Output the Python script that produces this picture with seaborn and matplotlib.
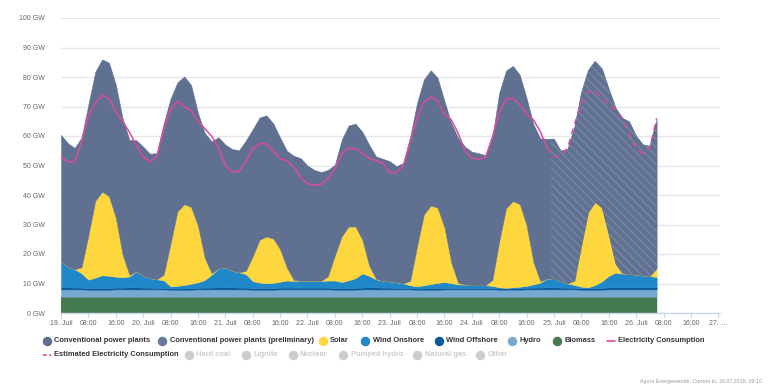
import numpy as np
import pandas as pd
import matplotlib
matplotlib.use("Agg")
import matplotlib.pyplot as plt
import seaborn as sns
from matplotlib.patches import Rectangle
from matplotlib.lines import Line2D

# ---------------- data (GW, every 2 hours starting 19 July 00:00) ----------------
hours = list(range(0, 176, 2))

biomass = [5.5, 5.5, 5.5, 5.5, 5.5, 5.5, 5.5, 5.5, 5.5, 5.5, 5.5, 5.5,
           5.5, 5.5, 5.5, 5.5, 5.5, 5.5, 5.5, 5.5, 5.5, 5.5, 5.5, 5.5,
           5.5, 5.5, 5.5, 5.5, 5.5, 5.5, 5.5, 5.5, 5.5, 5.5, 5.5, 5.5,
           5.5, 5.5, 5.5, 5.5, 5.5, 5.5, 5.5, 5.5, 5.5, 5.5, 5.5, 5.5,
           5.5, 5.5, 5.5, 5.5, 5.5, 5.5, 5.5, 5.5, 5.5, 5.5, 5.5, 5.5,
           5.5, 5.5, 5.5, 5.5, 5.5, 5.5, 5.5, 5.5, 5.5, 5.5, 5.5, 5.5,
           5.5, 5.5, 5.5, 5.5, 5.5, 5.5, 5.5, 5.5, 5.5, 5.5, 5.5, 5.5,
           5.5, 5.5, 5.5, 5.5]
hydro = [2.5, 2.5, 2.5, 2.5, 2.4, 2.4, 2.4, 2.4, 2.5, 2.5, 2.5, 2.5,
         2.5, 2.5, 2.5, 2.5, 2.4, 2.4, 2.4, 2.4, 2.5, 2.5, 2.5, 2.5,
         2.5, 2.5, 2.5, 2.5, 2.4, 2.4, 2.4, 2.4, 2.5, 2.5, 2.5, 2.5,
         2.5, 2.5, 2.5, 2.5, 2.4, 2.4, 2.4, 2.4, 2.5, 2.5, 2.5, 2.5,
         2.5, 2.5, 2.5, 2.5, 2.4, 2.4, 2.4, 2.4, 2.5, 2.5, 2.5, 2.5,
         2.5, 2.5, 2.5, 2.5, 2.4, 2.4, 2.4, 2.4, 2.5, 2.5, 2.5, 2.5,
         2.5, 2.5, 2.5, 2.5, 2.4, 2.4, 2.4, 2.4, 2.5, 2.5, 2.5, 2.5,
         2.5, 2.5, 2.5, 2.5]
wind_offshore = [0.7, 0.7, 0.6, 0.6, 0.5, 0.5, 0.5, 0.6, 0.6, 0.6, 0.7, 0.7,
                 0.6, 0.6, 0.5, 0.5, 0.4, 0.4, 0.4, 0.5, 0.5, 0.6, 0.6, 0.7,
                 0.7, 0.7, 0.6, 0.6, 0.5, 0.5, 0.5, 0.5, 0.6, 0.6, 0.6, 0.6,
                 0.6, 0.6, 0.6, 0.6, 0.5, 0.5, 0.5, 0.6, 0.6, 0.7, 0.7, 0.6,
                 0.6, 0.5, 0.5, 0.5, 0.4, 0.4, 0.5, 0.5, 0.5, 0.5, 0.5, 0.5,
                 0.5, 0.5, 0.5, 0.4, 0.4, 0.4, 0.4, 0.5, 0.5, 0.6, 0.6, 0.7,
                 0.7, 0.6, 0.6, 0.5, 0.5, 0.5, 0.6, 0.6, 0.7, 0.7, 0.7, 0.7,
                 0.7, 0.7, 0.7, 0.7]
wind_onshore = [8.8, 6.9, 6.2, 4.9, 2.9, 3.6, 4.4, 4.1, 3.7, 3.5, 3.7, 5.4,
                3.9, 3.2, 2.9, 2.6, 0.7, 0.9, 1.2, 1.5, 1.9, 2.6, 4.4, 6.4,
                6.7, 5.6, 5.2, 4.6, 2.4, 1.9, 1.7, 1.8, 2.0, 2.4, 2.3, 2.3,
                2.3, 2.3, 2.3, 2.4, 2.6, 2.1, 2.7, 3.3, 4.8, 3.9, 2.7, 2.3,
                2.1, 1.9, 1.5, 0.9, 0.7, 1.1, 1.4, 1.8, 2.0, 1.6, 1.2, 1.1,
                0.9, 0.9, 0.9, 0.8, 0.4, 0.2, 0.4, 0.5, 0.7, 1.1, 1.7, 2.9,
                3.1, 2.1, 1.4, 1.0, 0.5, 0.3, 1.0, 2.2, 3.9, 5.0, 4.6, 4.5,
                4.3, 4.0, 3.8, 3.5]
solar = [0, 0, 0, 2.0, 15.0, 26.0, 28.3, 27.0, 20.0, 7.6, 0.5, 0,
         0, 0, 0, 1.9, 14.5, 25.2, 27.4, 26.0, 19.2, 7.4, 0.5, 0,
         0, 0, 0, 1.1, 8.4, 14.5, 15.8, 15.0, 11.0, 4.3, 0.3, 0,
         0, 0, 0, 1.5, 8.5, 15.5, 18.2, 17.5, 11.5, 3.5, 0.2, 0,
         0, 0, 0, 1.5, 13.5, 24.0, 26.6, 25.5, 18.5, 7.0, 0.5, 0,
         0, 0, 0, 2.0, 15.5, 27.0, 29.2, 28.0, 20.5, 7.5, 0.5, 0,
         0, 0, 0, 1.5, 14.0, 25.5, 28.1, 25.0, 14.0, 3.0, 0, 0,
         0, 0, 0, 3.0]
conventional = [42.9, 42.0, 41.2, 44.0, 44.5, 43.8, 44.9, 45.3, 45.2, 46.3, 45.8, 44.5,
                43.9, 42.2, 42.8, 51.4, 49.2, 43.8, 43.3, 41.4, 38.3, 42.4, 44.7, 44.5,
                41.7, 41.3, 41.4, 44.2, 43.1, 41.5, 41.1, 39.1, 37.9, 39.7, 42.1, 41.6,
                39.1, 37.6, 36.9, 36.0, 30.8, 32.8, 34.3, 34.9, 36.6, 41.0, 41.5, 41.4,
                40.8, 39.4, 40.9, 49.0, 48.7, 45.8, 45.9, 44.1, 42.9, 47.3, 49.2, 46.8,
                45.3, 44.8, 44.1, 48.6, 50.5, 46.7, 45.9, 43.9, 43.2, 46.8, 48.4, 47.5,
                47.2, 44.3, 45.5, 51.9, 51.9, 48.1, 47.8, 47.2, 49.5, 52.9, 52.8, 51.7,
                47.1, 44.4, 44.1, 50.4]
preliminary_from = 143  # hours after 19 July 00:00

consumption_hours = hours[:72]
consumption = [53.0, 51.2, 51.3, 58.0, 67.0, 71.2, 73.9, 72.5, 68.5, 65.0, 61.3, 56.8,
               53.0, 51.3, 53.0, 62.5, 69.0, 71.8, 69.8, 68.8, 65.1, 62.5, 60.0, 56.0,
               50.0, 47.8, 48.0, 51.5, 55.5, 57.5, 57.3, 55.0, 52.3, 51.6, 49.5, 46.0,
               43.8, 43.4, 43.6, 45.5, 48.8, 54.0, 55.8, 55.7, 54.2, 52.5, 51.7, 50.8,
               47.6, 47.6, 50.0, 58.0, 66.0, 71.5, 73.2, 72.0, 67.5, 65.5, 61.0, 55.0,
               52.5, 52.2, 52.8, 59.5, 68.0, 72.5, 72.9, 70.5, 67.5, 65.5, 61.5, 56.0]
estimated_hours = hours[71:]
estimated_consumption = [56.0, 53.0, 53.2, 56.0, 64.0, 71.0, 75.0, 75.2, 73.0, 70.8,
                         69.0, 66.0, 61.0, 55.5, 54.0, 56.0, 66.0]

tick_hours = list(range(0, 193, 8))
tick_labels = ["19. Juli", "08:00", "16:00", "20. Juli", "08:00", "16:00",
               "21. Juli", "08:00", "16:00", "22. Juli", "08:00", "16:00",
               "23. Juli", "08:00", "16:00", "24. Juli", "08:00", "16:00",
               "25. Juli", "08:00", "16:00", "26. Juli", "08:00", "16:00", "27. …"]
y_ticks = list(range(0, 101, 10))

# ---------------- style ----------------
c_conv = "#5f7091"
c_conv_pre = "#6a7a99"
c_hatch = "#7584a2"
c_solar = "#fed73f"
c_on = "#2088c8"
c_off = "#07589a"
c_hydro = "#77a8cf"
c_bio = "#467a4f"
c_cons = "#de4a9b"
c_off_legend = "#cccccc"

sns.set_theme(style="white")
plt.rcParams["font.family"] = ["Liberation Sans", "DejaVu Sans"]
plt.rcParams["hatch.color"] = c_hatch
plt.rcParams["hatch.linewidth"] = 1.1

W, H = 768, 386
fig = plt.figure(figsize=(W / 100, H / 100), dpi=100)
ax = fig.add_axes([61 / W, 1 - 313 / H, (720 - 61) / W, (313 - 18) / H])

x = np.array(hours, dtype=float)
stack = [("Biomass", biomass, c_bio),
         ("Hydro", hydro, c_hydro),
         ("Wind Offshore", wind_offshore, c_off),
         ("Wind Onshore", wind_onshore, c_on),
         ("Solar", solar, c_solar),
         ("Conventional power plants", conventional, c_conv)]
base = np.zeros(len(x))
for name, vals, col in stack:
    top = base + np.array(vals, dtype=float)
    ax.fill_between(x, base, top, facecolor=col, edgecolor=col, lw=0.3, zorder=2)
    if name == "Conventional power plants":
        h = ax.fill_between(x, base, top, facecolor=c_conv, edgecolor=c_hatch,
                            hatch="\\\\\\\\", lw=0, zorder=3)
        h.set_clip_path(Rectangle((preliminary_from, -10), 200, 300,
                                  transform=ax.transData))
    base = top

sns.lineplot(x=consumption_hours, y=consumption, ax=ax, color=c_cons,
             lw=1.1, zorder=5, legend=False)
sns.lineplot(x=estimated_hours, y=estimated_consumption, ax=ax, color=c_cons,
             lw=1.1, linestyle=(0, (4, 3)), zorder=5, legend=False)

ax.set_xlim(0, 192.5)
ax.set_ylim(0, 100)
ax.set_xticks(tick_hours)
ax.set_xticklabels(tick_labels)
ax.set_yticks(y_ticks)
ax.set_yticklabels([f"{v} GW" for v in y_ticks])
ax.set_xlabel("")
ax.set_ylabel("")
ax.grid(axis="y", color="#e6e6e6", lw=1)
ax.grid(axis="x", visible=False)
ax.set_axisbelow(True)
for s in ["top", "right", "left"]:
    ax.spines[s].set_visible(False)
ax.spines["bottom"].set_color("#ccd6eb")
ax.spines["bottom"].set_linewidth(1)
ax.spines["bottom"].set_zorder(6)
ax.tick_params(axis="x", length=3.6, width=0.8, color="#ccd6eb", pad=1.5,
               labelsize=5, labelcolor="#666666", direction="out", bottom=True)
ax.tick_params(axis="y", length=0, pad=11.5, labelsize=5, labelcolor="#666666")

# ---------------- legend (Highcharts-style flow legend) ----------------
def fx(px):
    return px / W

def fy(py):
    return 1 - py / H

def circle_item(xc, yc, color, label, txtcol="#333333"):
    fig.add_artist(Line2D([fx(xc)], [fy(yc)], marker="o", markersize=5.8,
                          color=color, lw=0, transform=fig.transFigure))
    fig.text(fx(xc + 7.3), fy(yc), label, fontsize=5.4, fontweight="bold",
             color=txtcol, va="center", ha="left")

def line_item(x0, x1, yc, label, ls):
    fig.add_artist(Line2D([fx(x0), fx(x1)], [fy(yc), fy(yc)], color=c_cons,
                          lw=1.2, linestyle=ls, transform=fig.transFigure))
    fig.text(fx(x1 + 3), fy(yc), label, fontsize=5.4, fontweight="bold",
             color="#333333", va="center", ha="left")

r1, r2 = 340.5, 355
circle_item(46.7, r1, c_conv, "Conventional power plants")
circle_item(162.3, r1, c_conv_pre, "Conventional power plants (preliminary)")
circle_item(322.7, r1, c_solar, "Solar")
circle_item(365.3, r1, c_on, "Wind Onshore")
circle_item(438.7, r1, c_off, "Wind Offshore")
circle_item(512.3, r1, c_hydro, "Hydro")
circle_item(557.3, r1, c_bio, "Biomass")
line_item(606.7, 615, r1, "Electricity Consumption", "-")
line_item(42.5, 50.5, r2, "Estimated Electricity Consumption", (0, (2.2, 1.5)))
for xc, lab in [(189, "Hard coal"), (245.7, "Lignite"), (292.7, "Nuclear"),
                (343.3, "Pumped hydro"), (417.3, "Natural gas"), (480, "Other")]:
    circle_item(xc, r2, c_off_legend, lab, txtcol=c_off_legend)

fig.text(fx(762), fy(381), "Agora Energiewende; Current to: 26.07.2018, 09:10",
         fontsize=3.8, color="#999999", ha="right", va="center")

fig.savefig("out.png", dpi=100)
